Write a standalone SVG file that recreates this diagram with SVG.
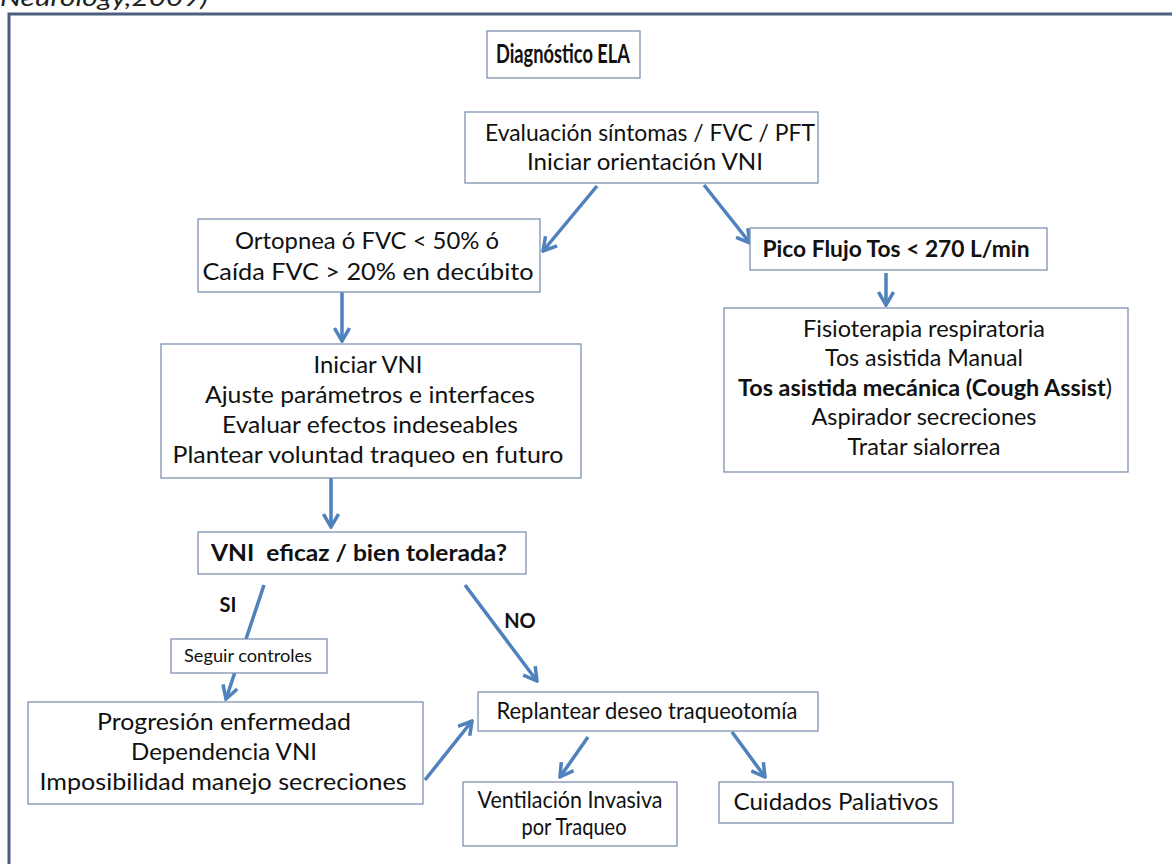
<svg xmlns="http://www.w3.org/2000/svg" width="1172" height="864" viewBox="0 0 1172 864">
<style>
.box{fill:#fff;stroke:#7f93b0;stroke-width:1.3}
.t{font-family:Lato,"Open Sans","Liberation Sans",sans-serif;font-size:23px;fill:#111;text-anchor:middle}
.b{font-weight:bold}
.s{font-size:17px}
.big{font-size:26px}
.lab{font-size:20px}
.c{stroke:#4f81bd;stroke-width:3.5;fill:none;marker-end:url(#ah)}
.frame{stroke:#4d5f7f;stroke-width:3;fill:none}
</style>
<defs>
<marker id="ah" viewBox="0 0 18 18" refX="16" refY="9" markerWidth="18" markerHeight="18" markerUnits="userSpaceOnUse" orient="auto">
<path d="M3,1.5 L16,9 L3,16.5" fill="none" stroke="#4f81bd" stroke-width="3.5" stroke-linejoin="miter"/>
</marker>
</defs>
<rect width="1172" height="864" fill="#fff"/>
<text x="0" y="6" font-family="Lato,'Open Sans',sans-serif" font-style="italic" font-size="24" fill="#222" textLength="208" lengthAdjust="spacingAndGlyphs">Neurology,2009)</text>
<path class="frame" d="M9,864 V14 H1172"/>
<g id="connectors">
<line class="c" x1="597" y1="186" x2="543" y2="251"/>
<line class="c" x1="704" y1="185" x2="750" y2="243"/>
<line class="c" x1="886" y1="273" x2="886" y2="305"/>
<line class="c" x1="342" y1="292" x2="342" y2="341"/>
<line class="c" x1="331" y1="478" x2="331" y2="527"/>
<line class="c" x1="264" y1="585" x2="226" y2="699"/>
<line class="c" x1="465" y1="585" x2="537" y2="681"/>
<line class="c" x1="425" y1="780" x2="472" y2="721"/>
<line class="c" x1="588" y1="737" x2="560" y2="777"/>
<line class="c" x1="732" y1="732" x2="765" y2="777"/>
</g>
<g id="n-diagnostico">
<rect class="box" x="487" y="31" width="153" height="47"/>
<text class="t b big" x="563" y="63" textLength="134" lengthAdjust="spacingAndGlyphs">Diagnóstico ELA</text>
</g>
<g id="n-evaluacion">
<rect class="box" x="465" y="112" width="353" height="71"/>
<text class="t" x="650" y="141" textLength="330" lengthAdjust="spacingAndGlyphs">Evaluación síntomas / FVC / PFT</text>
<text class="t" x="645" y="170" textLength="236" lengthAdjust="spacingAndGlyphs">Iniciar orientación VNI</text>
</g>
<g id="n-ortopnea">
<rect class="box" x="198" y="219" width="342" height="73"/>
<text class="t" x="367" y="249" textLength="264" lengthAdjust="spacingAndGlyphs">Ortopnea ó FVC &lt; 50% ó</text>
<text class="t" x="368" y="280" textLength="331" lengthAdjust="spacingAndGlyphs">Caída FVC &gt; 20% en decúbito</text>
</g>
<g id="n-pico">
<rect class="box" x="750" y="228" width="297" height="42"/>
<text class="t b" x="896" y="257" textLength="267" lengthAdjust="spacingAndGlyphs">Pico Flujo Tos &lt; 270 L/min</text>
</g>
<g id="n-fisioterapia">
<rect class="box" x="724" y="308" width="404" height="164"/>
<text class="t" x="924" y="337" textLength="242" lengthAdjust="spacingAndGlyphs">Fisioterapia respiratoria</text>
<text class="t" x="924" y="366" textLength="198" lengthAdjust="spacingAndGlyphs">Tos asistida Manual</text>
<text class="t" x="925" y="396" textLength="374" lengthAdjust="spacingAndGlyphs"><tspan font-weight="bold">Tos asistida mecánica (Cough Assist</tspan>)</text>
<text class="t" x="924" y="425" textLength="225" lengthAdjust="spacingAndGlyphs">Aspirador secreciones</text>
<text class="t" x="924" y="455" textLength="153" lengthAdjust="spacingAndGlyphs">Tratar sialorrea</text>
</g>
<g id="n-iniciar">
<rect class="box" x="161" y="344" width="420" height="134"/>
<text class="t" x="368" y="373" textLength="109" lengthAdjust="spacingAndGlyphs">Iniciar VNI</text>
<text class="t" x="370" y="403" textLength="330" lengthAdjust="spacingAndGlyphs">Ajuste parámetros e interfaces</text>
<text class="t" x="370" y="433" textLength="296" lengthAdjust="spacingAndGlyphs">Evaluar efectos indeseables</text>
<text class="t" x="368" y="463" textLength="391" lengthAdjust="spacingAndGlyphs">Plantear voluntad traqueo en futuro</text>
</g>
<g id="n-eficaz">
<rect class="box" x="198" y="532" width="328" height="42"/>
<text class="t b" x="359" y="561" textLength="296" lengthAdjust="spacingAndGlyphs" xml:space="preserve">VNI  eficaz / bien tolerada?</text>
</g>
<g id="labels">
<text class="t b lab" x="228" y="612">SI</text>
<text class="t b lab" x="520" y="628">NO</text>
</g>
<g id="n-seguir">
<rect class="box" x="171" y="639" width="156" height="34"/>
<text class="t s" x="248" y="662" textLength="128" lengthAdjust="spacingAndGlyphs">Seguir controles</text>
</g>
<g id="n-progresion">
<rect class="box" x="28" y="702" width="395" height="102"/>
<text class="t" x="224" y="730" textLength="254" lengthAdjust="spacingAndGlyphs">Progresión enfermedad</text>
<text class="t" x="224" y="760" textLength="186" lengthAdjust="spacingAndGlyphs">Dependencia VNI</text>
<text class="t" x="223" y="790" textLength="367" lengthAdjust="spacingAndGlyphs">Imposibilidad manejo secreciones</text>
</g>
<g id="n-replantear">
<rect class="box" x="478" y="692" width="340" height="39"/>
<text class="t" x="647" y="719" textLength="301" lengthAdjust="spacingAndGlyphs">Replantear deseo traqueotomía</text>
</g>
<g id="n-ventilacion">
<rect class="box" x="463" y="782" width="214" height="64"/>
<text class="t" x="570" y="808" textLength="185" lengthAdjust="spacingAndGlyphs">Ventilación Invasiva</text>
<text class="t" x="574" y="835" textLength="105" lengthAdjust="spacingAndGlyphs">por Traqueo</text>
</g>
<g id="n-cuidados">
<rect class="box" x="719" y="782" width="234" height="41"/>
<text class="t" x="836" y="810" textLength="205" lengthAdjust="spacingAndGlyphs">Cuidados Paliativos</text>
</g>
</svg>
